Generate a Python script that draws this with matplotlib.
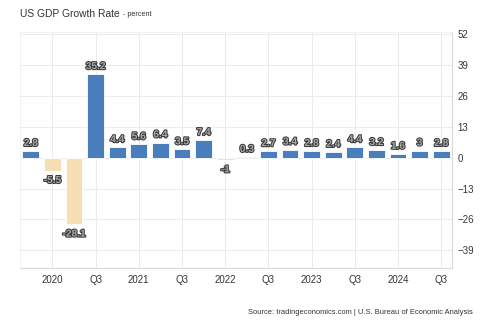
import matplotlib.pyplot as plt
import matplotlib.patheffects as pe

plt.rcParams["font.family"] = ["Liberation Sans", "DejaVu Sans"]

quarters = ["2019Q4", "2020Q1", "2020Q2", "2020Q3", "2020Q4",
            "2021Q1", "2021Q2", "2021Q3", "2021Q4",
            "2022Q1", "2022Q2", "2022Q3", "2022Q4",
            "2023Q1", "2023Q2", "2023Q3", "2023Q4",
            "2024Q1", "2024Q2", "2024Q3"]
growth = [2.8, -5.5, -28.1, 35.2, 4.4, 5.6, 6.4, 3.5, 7.4, -1,
          0.3, 2.7, 3.4, 2.8, 2.4, 4.4, 3.2, 1.6, 3, 2.8]
tick_quarters = ["2020Q1", "2020Q3", "2021Q1", "2021Q3", "2022Q1",
                 "2022Q3", "2023Q1", "2023Q3", "2024Q1", "2024Q3"]
tick_labels = ["2020", "Q3", "2021", "Q3", "2022", "Q3", "2023", "Q3", "2024", "Q3"]
y_ticks = [52, 39, 26, 13, 0, -13, -26, -39]

pos_color = "#4a7dbb"
neg_color = "#f6dfb2"

fig = plt.figure(figsize=(4.82, 3.29), dpi=100)
ax = fig.add_axes([20 / 482, 1 - 268 / 329, 432 / 482, 236 / 329])

x = list(range(len(quarters)))
colors = [pos_color if v >= 0 else neg_color for v in growth]
ax.bar(x, growth, width=0.77, color=colors, edgecolor="white", linewidth=0.6, zorder=3)

# outlined value labels
stroke = [pe.withStroke(linewidth=1.5, foreground="#3a3a3a")]
for xi, v in zip(x, growth):
    label = f"{v:g}"
    if v >= 0:
        ax.text(xi, v + 1.3, label, ha="center", va="bottom", fontsize=7.3,
                fontweight="bold", color="#a8a8a8", path_effects=stroke, zorder=4)
    else:
        ax.text(xi, v - 1.8, label, ha="center", va="top", fontsize=7.3,
                fontweight="bold", color="#a8a8a8", path_effects=stroke, zorder=4)

ax.set_xlim(-0.5, len(quarters) - 0.5)
ax.set_ylim(-46.5, 53)
ax.set_xticks([quarters.index(q) for q in tick_quarters])
ax.set_xticklabels(tick_labels)
ax.set_yticks(y_ticks)
ax.yaxis.tick_right()
ax.tick_params(axis="both", length=0, labelsize=7, colors="#333333")
ax.tick_params(axis="y", pad=4)
ax.tick_params(axis="x", pad=5)
ax.grid(True, color="#ebebeb", linewidth=0.7, zorder=0)
for side in ["top", "left"]:
    ax.spines[side].set_color("#f0f0f0")
    ax.spines[side].set_linewidth(0.6)
for side in ["bottom", "right"]:
    ax.spines[side].set_color("#d9d9d9")
    ax.spines[side].set_linewidth(0.8)

title = fig.text(20 / 482, 1 - 14 / 329, "US GDP Growth Rate", fontsize=7.4,
                 color="#333333", va="center", ha="left")
fig.canvas.draw()
bb = title.get_window_extent()
fig.text((bb.x1 + 3) / 482, 1 - 14.5 / 329, "- percent", fontsize=5.2,
         color="#333333", va="center", ha="left")
fig.text(473 / 482, 1 - 313 / 329,
         "Source: tradingeconomics.com | U.S. Bureau of Economic Analysis",
         fontsize=5.4, color="#333333", ha="right", va="center")

fig.savefig("out.png", dpi=100)
